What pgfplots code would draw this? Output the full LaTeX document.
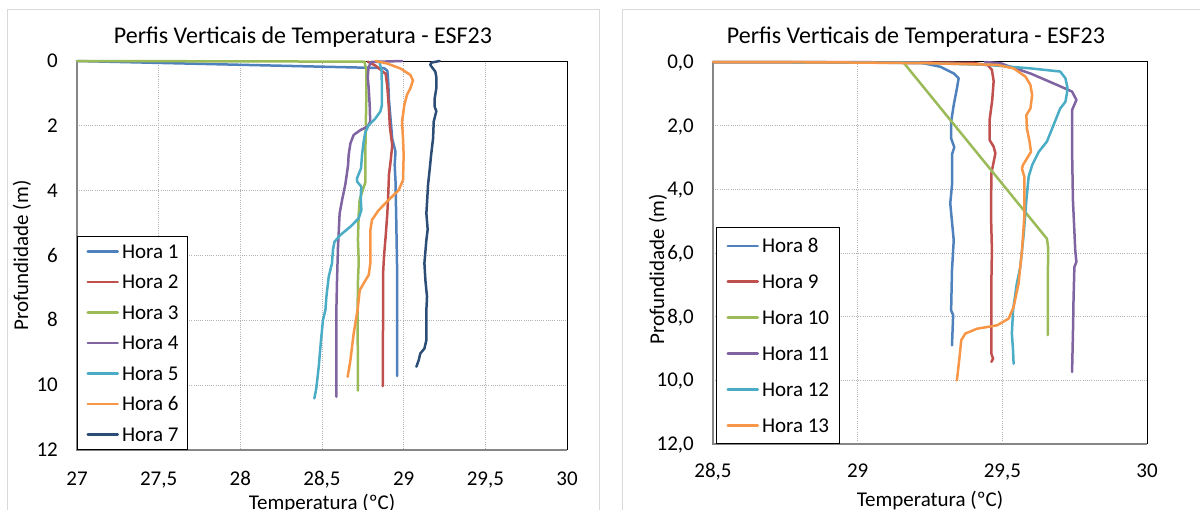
\documentclass[border=0pt]{standalone}
\usepackage{fontspec}
\setmainfont{Carlito}
\usepackage{pgfplots}
\pgfplotsset{compat=1.18}
\definecolor{hA}{HTML}{4F81BD}
\definecolor{hB}{HTML}{C0504D}
\definecolor{hC}{HTML}{9BBB59}
\definecolor{hD}{HTML}{8064A2}
\definecolor{hE}{HTML}{4BACC6}
\definecolor{hF}{HTML}{F79646}
\definecolor{hG}{HTML}{2C4D75}
\definecolor{gridgray}{HTML}{B3B3B3}
\definecolor{axisgray}{HTML}{868686}
\definecolor{framegray}{HTML}{D9D9D9}
\newcommand{\lblfont}{\fontsize{21bp}{25bp}\selectfont}
\newcommand{\ttlfont}{\fontsize{24bp}{28bp}\selectfont}

\pgfplotsset{
  excel/.style={
    scale only axis, clip=false,
    anchor=south west,
    y dir=reverse, ymin=0, ymax=12, ytick={0,2,4,6,8,10,12},
    axis line style={draw=none},
    major tick length=0pt,
    grid=major,
    major grid style={color=gridgray, line width=1bp, dash pattern=on 1bp off 1.2bp},
    /pgf/number format/assume math mode=true,
    /pgf/number format/use comma,
    tick label style={font=\lblfont},
    xticklabel style={anchor=base, yshift=-35.5bp},
    yticklabel style={anchor=east, inner sep=0pt, text height=13.3bp, text depth=0pt, xshift=-19bp},
    every axis x label/.style={at={(axis description cs:0.5,0)}, anchor=base, yshift=-59bp, font=\lblfont},
    every axis y label/.style={at={(axis description cs:0,0.5)}, xshift=-55bp, rotate=90, anchor=center, font=\lblfont},
    xlabel={Temperatura (ºC)},
    ylabel={Profundidade (m)},
    every axis plot/.append style={line width=2.5bp, line join=round, line cap=round, mark=none},
    legend cell align=left,
    legend image code/.code={\draw[#1] (0bp,0bp) -- (30bp,0bp);},
    legend style={at={(0,0)}, anchor=south west, draw=black, line width=1bp, fill=white,
      inner xsep=9bp, inner ysep=8bp, row sep=16bp, font=\lblfont,
      nodes={inner sep=0pt, text height=14bp, text depth=0.5bp},
      /tikz/every odd column/.append style={column sep=3bp}},
  }
}

\begin{document}
\begin{tikzpicture}
\useasboundingbox (0,0) rectangle (1200bp,510bp);
\clip (0,0) rectangle (1200bp,510bp);
\draw[framegray, line width=1bp] (7bp,-10bp) -- (7bp,500bp) -- (599bp,500bp) -- (599bp,-10bp);
\draw[framegray, line width=1bp] (622bp,-10bp) -- (622bp,500bp) -- (1210bp,500bp);
\node[anchor=base, font=\ttlfont, inner sep=0pt] at (303bp,466bp) {Perfis Verticais de Temperatura - ESF23};
\node[anchor=base, font=\ttlfont, inner sep=0pt] at (916bp,466bp) {Perfis Verticais de Temperatura - ESF23};

% ---- left: Horas 1-7
\begin{axis}[excel, at={(77bp,60bp)}, width=490bp, height=389bp,
  xmin=27, xmax=30, xtick={27,27.5,28,28.5,29,29.5,30}]
\draw[black, line width=1bp] (axis cs:27,0) -- (axis cs:30,0) -- (axis cs:30,12);
\draw[axisgray, line width=2bp] (axis cs:27,0) -- (axis cs:27,12) -- (axis cs:30,12);
\addplot[hA] coordinates {(27,0) (28.88,0.22) (28.90,0.30) (28.905,0.6) (28.91,1.2) (28.92,1.8) (28.93,2.4) (28.95,2.8) (28.945,3.2) (28.95,3.7) (28.955,5.0) (28.96,6.5) (28.96,8.0) (28.96,9.72)};
\addlegendentry{Hora 1}
\addplot[hB] coordinates {(28.78,0.02) (28.83,0.15) (28.89,0.40) (28.90,0.8) (28.91,1.5) (28.915,2.0) (28.93,2.6) (28.92,3.1) (28.91,3.5) (28.905,4.2) (28.90,4.7) (28.89,5.4) (28.88,6.0) (28.875,6.45) (28.874,7.5) (28.873,9.0) (28.872,10.03)};
\addlegendentry{Hora 2}
\addplot[hC] coordinates {(27.0,0.0) (28.76,0.02) (28.772,0.3) (28.772,1.0) (28.768,2.0) (28.765,3.0) (28.765,3.75) (28.745,4.05) (28.73,4.3) (28.725,4.7) (28.72,5.5) (28.725,6.2) (28.72,6.8) (28.718,7.7) (28.72,10.17)};
\addlegendentry{Hora 3}
\addplot[hD] coordinates {(28.99,0.0) (28.80,0.03) (28.785,0.2) (28.78,0.5) (28.786,0.84) (28.792,1.36) (28.795,1.87) (28.78,2.02) (28.735,2.13) (28.694,2.28) (28.674,2.54) (28.663,2.9) (28.66,3.2) (28.643,3.8) (28.623,4.29) (28.608,4.70) (28.598,5.73) (28.592,6.76) (28.588,7.68) (28.588,10.36)};
\addlegendentry{Hora 4}
\addplot[hE] coordinates {(28.85,0.0) (28.865,0.3) (28.867,1.0) (28.867,1.36) (28.857,1.56) (28.827,1.77) (28.786,1.98) (28.765,2.2) (28.755,2.49) (28.745,2.9) (28.739,3.31) (28.714,3.62) (28.715,3.72) (28.741,3.88) (28.737,4.19) (28.741,4.6) (28.725,4.85) (28.674,5.11) (28.612,5.37) (28.576,5.58) (28.567,5.83) (28.561,6.24) (28.541,6.66) (28.527,7.27) (28.521,7.68) (28.506,7.99) (28.494,8.61) (28.48,9.43) (28.465,10.1) (28.453,10.41)};
\addlegendentry{Hora 5}
\addplot[hF] coordinates {(28.83,0.0) (28.90,0.08) (28.98,0.23) (29.041,0.43) (29.057,0.6) (29.041,0.84) (29.02,1.05) (29.004,1.36) (28.99,1.87) (28.996,2.39) (29.0,2.9) (28.996,3.67) (28.97,3.98) (28.898,4.34) (28.847,4.6) (28.806,4.9) (28.796,5.22) (28.796,6.24) (28.786,6.6) (28.755,6.86) (28.731,7.07) (28.718,7.68) (28.694,8.4) (28.674,9.23) (28.657,9.74)};
\addlegendentry{Hora 6}
\addplot[hG] coordinates {(29.22,0.0) (29.17,0.05) (29.163,0.12) (29.194,0.33) (29.2,0.5) (29.2,0.84) (29.19,1.15) (29.19,1.41) (29.2,1.55) (29.184,1.87) (29.18,2.39) (29.168,2.9) (29.16,3.31) (29.149,3.83) (29.145,4.2) (29.139,4.7) (29.147,5.2) (29.139,5.52) (29.127,6.24) (29.133,6.76) (29.143,7.27) (29.139,7.68) (29.139,8.61) (29.127,8.87) (29.102,9.02) (29.092,9.23) (29.078,9.43)};
\addlegendentry{Hora 7}
\end{axis}

% ---- right: Horas 8-13
\begin{axis}[excel, at={(713bp,66bp)}, width=434bp, height=382bp,
  xmin=28.5, xmax=30, xtick={28.5,29,29.5,30},
  yticklabel style={/pgf/number format/fixed, /pgf/number format/fixed zerofill, /pgf/number format/precision=1},
  every axis y label/.append style={xshift=-16.4bp},
  every axis x label/.append style={yshift=-3bp},
  xticklabel style={yshift=2bp},
  legend style={xshift=3bp, inner xsep=10bp, inner ysep=11bp, row sep=21.4bp}]
\draw[black, line width=1bp] (axis cs:28.5,0) -- (axis cs:30,0) -- (axis cs:30,12);
\draw[axisgray, line width=2bp] (axis cs:28.5,0) -- (axis cs:28.5,12) -- (axis cs:30,12);
\addplot[hA] coordinates {(28.5,0.0) (29.0,0.01) (29.228,0.04) (29.286,0.15) (29.332,0.36) (29.349,0.51) (29.343,0.83) (29.332,1.35) (29.323,1.88) (29.323,2.4) (29.334,2.68) (29.326,2.9) (29.326,3.87) (29.32,4.44) (29.332,5.6) (29.326,6.54) (29.323,7.8) (29.33,7.95) (29.326,8.9)};
\addlegendentry{Hora 8}
\addplot[hB] coordinates {(28.5,0.0) (29.2,0.01) (29.40,0.03) (29.45,0.1) (29.464,0.25) (29.47,0.6) (29.465,1.2) (29.456,1.82) (29.456,2.45) (29.47,2.66) (29.476,2.87) (29.462,3.5) (29.461,4.86) (29.464,5.91) (29.462,6.96) (29.462,8.0) (29.462,9.16) (29.468,9.32) (29.462,9.42)};
\addlegendentry{Hora 9}
\addplot[hC] coordinates {(29.157,0.0) (29.654,5.55) (29.658,5.8) (29.657,8.58)};
\addlegendentry{Hora 10}
\addplot[hD] coordinates {(29.44,0.0) (29.493,0.04) (29.528,0.15) (29.597,0.36) (29.689,0.72) (29.741,0.93) (29.756,1.19) (29.741,1.51) (29.741,2.77) (29.744,4.34) (29.752,5.91) (29.756,6.28) (29.749,6.44) (29.746,7.48) (29.744,8.53) (29.741,9.74)};
\addlegendentry{Hora 11}
\addplot[hE] coordinates {(28.5,0.0) (29.2,0.02) (29.447,0.09) (29.597,0.2) (29.7,0.3) (29.718,0.51) (29.725,0.8) (29.723,1.0) (29.718,1.25) (29.7,1.46) (29.677,1.98) (29.654,2.5) (29.626,2.82) (29.603,3.24) (29.591,3.6) (29.583,4.34) (29.574,5.39) (29.562,6.44) (29.55,6.96) (29.537,7.8) (29.533,8.53) (29.537,9.06) (29.539,9.48)};
\addlegendentry{Hora 12}
\addplot[hF] coordinates {(28.5,0.0) (28.906,0.01) (29.251,0.04) (29.482,0.09) (29.539,0.2) (29.58,0.46) (29.597,0.72) (29.603,1.04) (29.597,1.46) (29.583,1.67) (29.585,2.09) (29.594,2.5) (29.599,2.82) (29.585,3.03) (29.571,3.24) (29.568,3.35) (29.576,3.61) (29.576,4.86) (29.568,5.91) (29.556,6.96) (29.539,7.69) (29.522,8.06) (29.482,8.27) (29.412,8.38) (29.372,8.53) (29.358,8.74) (29.352,9.27) (29.343,10.0)};
\addlegendentry{Hora 13}
\end{axis}
\end{tikzpicture}
\end{document}
